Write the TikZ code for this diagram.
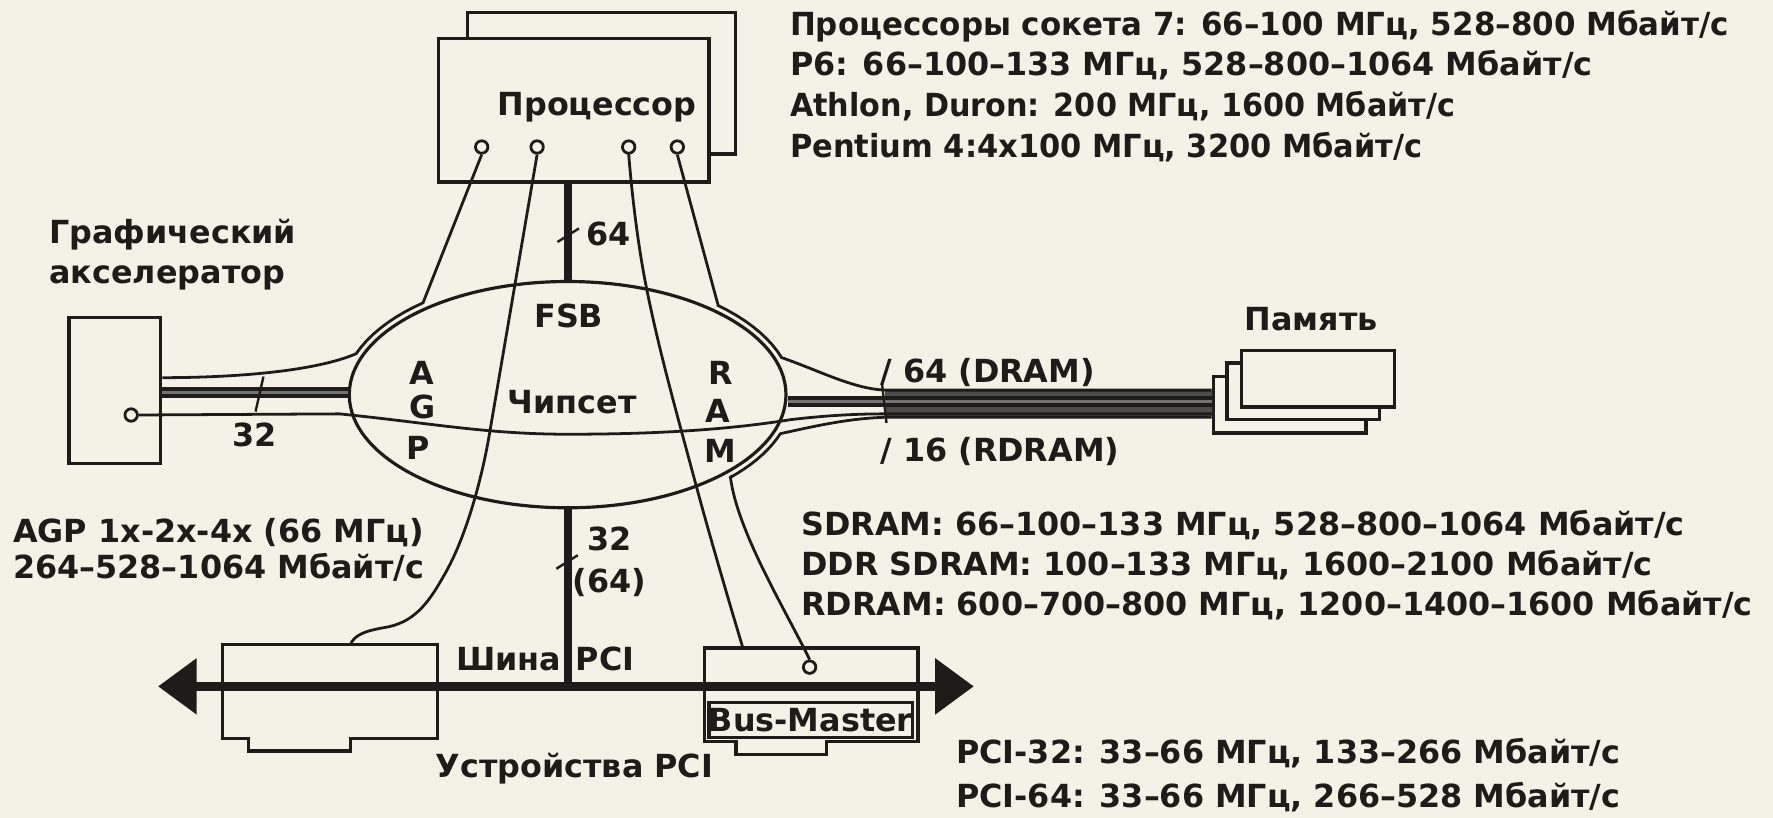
\documentclass[tikz,border=0pt]{standalone}
\usepackage{fontspec}
\setmainfont{DejaVu Sans}
\usetikzlibrary{shapes.geometric}
\definecolor{paper}{RGB}{244,241,231}
\definecolor{ink}{RGB}{30,28,24}
\begin{document}
\begin{tikzpicture}[x=0.01cm,y=-0.01cm,
  every node/.style={font=\fontsize{8}{10}\selectfont\bfseries,text=ink,inner sep=0pt},
  txt/.style={anchor=base west},
  wire/.style={draw=ink,line width=0.7pt},
  boxs/.style={draw=ink,line width=0.85pt,fill=paper},
  band/.style={draw=ink,line width=2.7pt},
  bandin/.style={draw=black!55,line width=0.8pt},
  heavy/.style={draw=ink,line width=2pt},
  pinc/.style={circle,draw=ink,line width=0.7pt,fill=paper,minimum size=0.11cm},
  tick/.style={draw=ink,line width=0.6pt}]

\fill[paper] (0,0) rectangle (1568,723);
\useasboundingbox (0,0) rectangle (1568,723);

% processor
\node[boxs,minimum width=2.37cm,minimum height=1.25cm] (cpuback) at (532,73.5) {};
\node[boxs,minimum width=2.39cm,minimum height=1.27cm] (cpu) at (507.5,97.5) {};
\node (cpulbl) at (528,95) {Процессор};

% chipset
\node[draw=ink,line width=0.8pt,ellipse,minimum width=3.86cm,minimum height=2cm] (chip) at (502,349) {};

% graphics accelerator
\node[boxs,minimum width=0.81cm,minimum height=1.29cm] (gfx) at (101.5,345.5) {};

% memory
\node[boxs,minimum width=1.35cm,minimum height=0.5cm] (mem3) at (1140.5,358) {};
\node[boxs,minimum width=1.35cm,minimum height=0.5cm] (mem2) at (1152.5,346) {};
\node[boxs,minimum width=1.35cm,minimum height=0.5cm] (mem1) at (1165.5,335) {};

% PCI cards
\draw[boxs] (197,570) -- (387,570) -- (387,653) -- (310,653) -- (310,664) -- (220,664) -- (220,653) -- (197,653) -- cycle;
\coordinate (lcard) at (310,570);
\draw[boxs] (623,573) -- (812,573) -- (812,656) -- (731,656) -- (731,667) -- (651,667) -- (651,656) -- (623,656) -- cycle;
\coordinate (rcard) at (657,573);
\node[draw=ink,line width=0.8pt,minimum width=1.78cm,minimum height=0.31cm] (bm) at (717,636.5) {Bus-Master};

% PCI bus
\coordinate (busL) at (140,607);
\coordinate (busR) at (861,607);
\draw[ink,line width=2.3pt] (170,607) -- (831,607);
\fill[ink] (busL) -- (174,582) -- (174,632) -- cycle;
\fill[ink] (busR) -- (827,582) -- (827,632) -- cycle;

% FSB and PCI links
\draw[heavy] (cpu.south -| chip.north) -- (chip.north);
\draw[heavy] (chip.south) -- (chip.south |- busL);

% AGP band
\draw[band] (gfx.east |- 0,347) -- (chip.west |- 0,347);
\draw[bandin] (gfx.east |- 0,347) -- (chip.west |- 0,347);

% memory band
\fill[black!70] (783,346) rectangle (mem3.west |- 0,368);
\draw[band] (chip.east |- 0,355) -- (mem3.west |- 0,355);
\draw[bandin] (chip.east |- 0,355) -- (mem3.west |- 0,355);

% pins
\node[pinc] (p1) at (426,130) {};
\node[pinc] (p2) at (475,130) {};
\node[pinc] (p3) at (556,130) {};
\node[pinc] (p4) at (599,130) {};
\node[pinc] (gpin) at (116,367) {};
\node[pinc] (bmpin) at (716,590) {};

% wires
\draw[wire] (gpin.east) -- (300,366) .. controls (380,374) and (430,384) .. (502,384)
  .. controls (590,384) and (650,379) .. (700,371) .. controls (735,367) and (760,366) .. (783,366)
  -- (mem3.west |- 0,366);
\draw[wire] (p1.south) -- plot[domain=130:160,samples=10] ({502+199*cos(\x)},{349-106*sin(\x)})
  .. controls (280,328) and (210,334) .. (gfx.east |- 0,334);
\draw[wire] (p2.south) -- (433,383) .. controls (425,430) and (410,480) .. (392,510)
  .. controls (378,535) and (365,551) .. (340,555) .. controls (322,558) and (313,562) .. (lcard);
\draw[wire] plot[smooth,tension=0.7] coordinates {(556,136) (572,256) (615,427) (rcard)};
\draw[wire] (p4.south) -- plot[domain=48:18,samples=10] ({502+199*cos(\x)},{349-106*sin(\x)})
  .. controls (725,328) and (755,344) .. (783,345) -- (mem3.west |- 0,345);
\draw[wire] (bmpin.north) .. controls (695,540) and (652,470) .. (646,422)
  -- plot[domain=-44:-19,samples=10] ({502+199*cos(\x)},{349-106*sin(\x)})
  .. controls (720,377) and (750,370) .. (783,369) -- (mem3.west |- 0,369);

% ticks
\draw[tick] (493,214) -- (512,202);
\draw[tick] (492,503) -- (511,491);
\draw[tick] (226,364) -- (233,333);
\draw[tick] (780,339) -- (784,374);

% labels
\node (l64a) at (538,207) {64};
\node (l32a) at (225,385) {32};
\node (l32b) at (539,477) {32};
\node (l64b) at (539,515) {(64)};
\node (lfsb) at (503,279) {FSB};
\node (lchip) at (506,356) {Чипсет};
\node (la1) at (373,330) {A};
\node (lg) at (374,360) {G};
\node (lp) at (370,396) {P};
\node (lr) at (637,330) {R};
\node (la2) at (635,363) {A};
\node (lm) at (637,399) {M};
\node (lshina) at (450,583) {Шина};
\node (lpci) at (535,583) {PCI};
\node (ldev) at (508,680) {Устройства PCI};
\node[txt] (lmem) at (1100,292) {Память};
\node[txt] (ldram) at (778,338) {/ 64 (DRAM)};
\node[txt] (lrdram) at (778,408) {/ 16 (RDRAM)};

\node[txt] (t1) at (698,31) {\scalebox{0.972}[1]{Процессоры сокета 7: 66–100 МГц, 528–800 Мбайт/с}};
\node[txt] (t2) at (698,67) {P6: 66–100–133 МГц, 528–800–1064 Мбайт/с};
\node[txt] (t3) at (698,103) {\scalebox{0.95}[1]{Athlon, Duron: 200 МГц, 1600 Мбайт/с}};
\node[txt] (t4) at (698,139) {\scalebox{0.958}[1]{Pentium 4:4x100 МГц, 3200 Мбайт/с}};

\node[txt] (g1) at (43,215) {Графический};
\node[txt] (g2) at (43,251) {акселератор};

\node[txt] (a1) at (11,480) {AGP 1x-2x-4x (66 МГц)};
\node[txt] (a2) at (11,512) {264–528–1064 Мбайт/с};

\node[txt] (s1) at (708,474) {SDRAM: 66–100–133 МГц, 528–800–1064 Мбайт/с};
\node[txt] (s2) at (708,509) {DDR SDRAM: 100–133 МГц, 1600–2100 Мбайт/с};
\node[txt] (s3) at (708,544) {RDRAM: 600–700–800 МГц, 1200–1400–1600 Мбайт/с};

\node[txt] (c1) at (845,675) {PCI-32: 33–66 МГц, 133–266 Мбайт/с};
\node[txt] (c2) at (845,714) {PCI-64: 33–66 МГц, 266–528 Мбайт/с};
\end{tikzpicture}
\end{document}
